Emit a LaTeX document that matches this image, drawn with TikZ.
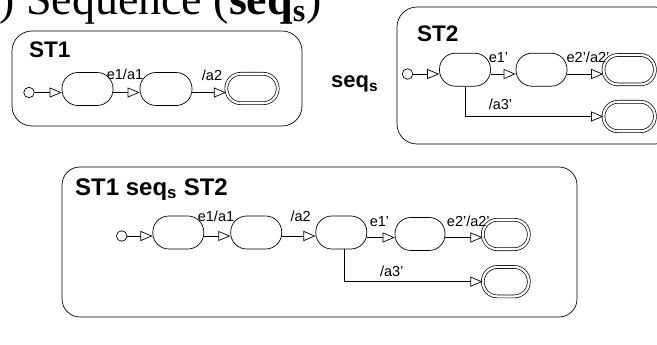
\documentclass[tikz,border=0pt]{standalone}
\usepackage{fontspec}
\setmainfont{Liberation Serif}
\setsansfont{Liberation Sans}
\usetikzlibrary{arrows.meta}
\tikzset{
  stt/.style={draw, line width=0.7pt, rectangle, rounded corners=16pt, minimum width=51pt, minimum height=33pt, inner sep=0pt},
  fin/.style={draw, line width=0.7pt, rectangle, double=white, double distance=2.2pt, rounded corners=14.5pt, minimum width=51.4pt, minimum height=29.4pt, inner sep=0pt},
  ini/.style={draw, line width=0.7pt, circle, minimum size=10.5pt, inner sep=0pt},
  tr/.style={line width=0.7pt, -{Triangle[open, length=12pt, width=10pt]}},
  lbl/.style={font=\sffamily\fontsize{14.5}{14.5}\selectfont, inner sep=0pt},
  head/.style={font=\sffamily\bfseries\fontsize{22.5}{22.5}\selectfont, inner sep=0pt, anchor=base west},
  grp/.style={draw, line width=0.7pt, rounded corners=20pt}
}
\begin{document}
\begin{tikzpicture}[x=1pt, y=-1pt]
\clip (0,0) rectangle (657,345);
\fill[white] (0,0) rectangle (657,345);
% title
\node[anchor=base west, inner sep=0pt, font=\fontsize{46}{46}\selectfont] (title) at (-24,15) {1) Sequence (\textbf{seq\textsubscript{s}})};
% ST1
\draw[grp] (12,31) rectangle (302,126);
\node[head] (h1) at (29,58) {ST1};
\node[ini] (i1) at (29,92.5) {};
\node[stt] (a1) at (87.5,89) {};
\node[stt, minimum width=52pt] (a2) at (166,89) {};
\node[fin] (af) at (252,88.5) {};
\draw[tr] (i1.east) -- ([yshift=-3.5pt]a1.west);
\draw[tr] ([yshift=-3.5pt]a1.east) -- ([yshift=-3.5pt]a2.west);
\draw[tr] ([yshift=-3.5pt]a2.east) -- ([yshift=-4pt]af.west);
\node[lbl] (l1) at (125,74) {e1/a1};
\node[lbl] (l2) at (212,75) {/a2};
% operator
\node[head, font=\sffamily\bfseries\fontsize{22}{22}\selectfont] (op) at (331,88) {seq\textsubscript{s}};
% ST2
\draw[grp] (397,7) rectangle (675,144);
\node[head] (h2) at (417,41.7) {ST2};
\node[ini] (i2) at (407.5,74) {};
\node[stt] (b1) at (465,69.7) {};
\node[stt] (b2) at (541.5,69.7) {};
\node[fin, minimum width=51.4pt] (bf1) at (629.2,69.7) {};
\node[fin] (bf2) at (629.2,116.5) {};
\draw[tr] (i2.east) -- ([yshift=-4.3pt]b1.west);
\draw[tr] ([yshift=-4.3pt]b1.east) -- ([yshift=-4.3pt]b2.west);
\draw[tr] ([yshift=-4.3pt]b2.east) -- ([yshift=-4.3pt]bf1.west);
\draw[tr] (b1.south) |- (bf2.west);
\node[lbl] (l3) at (498.5,58) {e1'};
\node[lbl] (l4) at (588,57) {e2'/a2'};
\node[lbl] (l5) at (500.5,104) {/a3'};
% combined
\draw[grp, rounded corners=18pt] (62,167) rectangle (577,317);
\node[head, font=\sffamily\bfseries\fontsize{24}{24}\selectfont] (h3) at (75,195) {ST1 seq\textsubscript{s} ST2};
\node[ini] (i3) at (121.7,236) {};
\node[stt] (c1) at (178.3,232.5) {};
\node[stt] (c2) at (256.2,232.5) {};
\node[stt] (c3) at (341.3,232.5) {};
\node[stt, minimum width=50pt] (c4) at (420,234) {};
\node[fin, minimum width=46pt] (cf1) at (505.8,234.5) {};
\node[fin, minimum width=46pt] (cf2) at (505.8,281.7) {};
\draw[tr] (i3.east) -- ([yshift=-3.5pt]c1.west);
\draw[tr] ([yshift=-3.5pt]c1.east) -- ([yshift=-3.5pt]c2.west);
\draw[tr] ([yshift=-3.5pt]c2.east) -- ([yshift=-3.5pt]c3.west);
\draw[tr] ([yshift=-5pt]c3.east) -- ([yshift=-3.5pt]c4.west);
\draw[tr] ([yshift=-3.5pt]c4.east) -- ([yshift=-3pt]cf1.west);
\draw[tr] ([xshift=2.7pt]c3.south) |- (cf2.west);
\node[lbl] (m1) at (216,216.7) {e1/a1};
\node[lbl] (m2) at (300.7,216.7) {/a2};
\node[lbl] (m3) at (379.5,221.7) {e1'};
\node[lbl] (m4) at (468.3,221.7) {e2'/a2'};
\node[lbl] (m5) at (391.7,271.7) {/a3'};
\end{tikzpicture}
\end{document}
